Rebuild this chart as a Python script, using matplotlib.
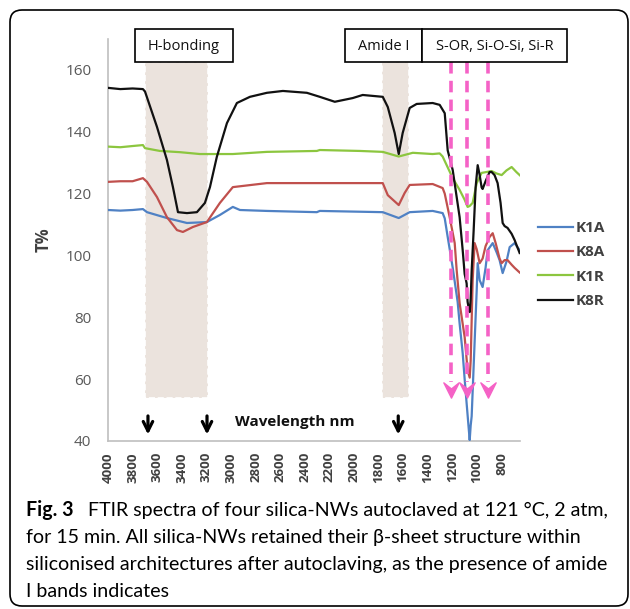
import matplotlib
matplotlib.use("Agg")
import matplotlib.pyplot as plt
from matplotlib.patches import Rectangle, FancyBboxPatch
from matplotlib.path import Path

plt.rcParams['font.family'] = ['Open Sans', 'DejaVu Sans']

# FTIR readings (wavenumber, T%)
k1a_wn = [4000, 3900, 3800, 3716, 3683, 3521, 3358, 3196, 3090, 2985, 2927, 2708, 2302,
          2278, 1766, 1636, 1547, 1360, 1279, 1262, 1238, 1197, 1157, 1141, 1116, 1100,
          1084, 1067, 1059, 1051, 1043, 1035, 1019, 1002, 994, 978, 954, 930, 913, 872,
          840, 816, 791, 760, 734, 694, 653]
k1a_t = [114.7, 114.5, 114.7, 115.0, 114.0, 112.1, 110.5, 110.8, 113.1, 115.7, 114.7, 114.4, 114.0,
         114.4, 114.0, 112.1, 114.0, 114.4, 113.7, 112.0, 106.0, 96.0, 85.0, 78.0, 68.4, 60.0,
         52.2, 44.0, 40.3, 45.0, 48.0, 56.0, 72.0, 88.8, 97.5, 92.0, 89.8, 96.0, 101.7, 104.0,
         101.0, 98.5, 94.3, 98.0, 102.7, 104.0, 101.7]

k8a_wn = [4000, 3900, 3800, 3716, 3683, 3602, 3521, 3439, 3391, 3310, 3196, 3090, 2985,
          2708, 2302, 1953, 1766, 1725, 1636, 1588, 1547, 1360, 1279, 1262, 1222, 1181,
          1165, 1141, 1100, 1076, 1059, 1051, 1035, 1019, 1002, 978, 954, 930, 897, 872,
          848, 816, 799, 775, 751, 718, 694, 653]
k8a_t = [123.8, 124.0, 124.0, 125.0, 123.8, 118.9, 112.4, 108.2, 107.6, 109.2, 110.8, 117.0, 122.1,
         123.4, 123.4, 123.4, 123.4, 119.5, 116.3, 120.2, 122.8, 123.1, 121.8, 120.0, 112.4, 104.0,
         95.3, 84.6, 73.6, 62.9, 60.5, 66.0, 92.0, 104.0, 102.0, 97.5, 99.0, 103.0, 106.0, 107.2,
         104.0, 99.0, 97.5, 98.5, 98.5, 97.0, 96.0, 94.5]

k1r_wn = [4000, 3900, 3797, 3716, 3699, 3578, 3415, 3253, 2985, 2708, 2302, 2278, 1953,
          1766, 1636, 1522, 1360, 1303, 1279, 1238, 1197, 1141, 1100, 1076, 1059, 1035,
          1002, 962, 920, 881, 840, 799, 760, 718, 680, 637]
k1r_t = [135.2, 135.0, 135.4, 135.7, 134.7, 133.8, 133.4, 132.8, 132.8, 133.5, 133.8, 134.1, 133.8,
         133.5, 132.0, 133.2, 132.8, 133.0, 132.0, 128.5, 125.0, 121.2, 118.0, 115.7, 116.0, 117.0,
         123.4, 126.7, 127.0, 127.3, 126.5, 126.0, 127.5, 128.6, 127.0, 125.4]

k8r_wn = [4000, 3900, 3800, 3716, 3699, 3602, 3521, 3472, 3431, 3358, 3277, 3212, 3171,
          3115, 3033, 2952, 2846, 2708, 2578, 2383, 2278, 2156, 2010, 1929, 1766, 1725,
          1669, 1636, 1604, 1547, 1490, 1360, 1303, 1262, 1246, 1238, 1197, 1141, 1116,
          1100, 1084, 1076, 1063, 1059, 1051, 1043, 1027, 1011, 994, 978, 962, 954, 930,
          897, 881, 857, 832, 808, 791, 775, 751, 718, 694, 653]
k8r_t = [154.2, 153.8, 154.0, 153.8, 153.0, 141.6, 130.9, 122.1, 114.0, 113.7, 114.0, 117.0, 122.1,
         131.9, 142.8, 149.3, 151.3, 152.6, 153.2, 152.6, 151.3, 149.7, 150.9, 151.9, 151.3, 148.0,
         139.6, 132.8, 139.6, 147.7, 149.0, 149.3, 148.7, 146.0, 138.0, 134.0, 127.6, 112.4, 101.7,
         94.0, 91.0, 85.0, 82.0, 81.7, 86.0, 95.0, 108.0, 122.0, 129.2, 126.0, 122.0, 121.5, 124.0,
         127.0, 127.0, 126.0, 123.4, 117.0, 110.5, 109.5, 108.9, 107.0, 105.0, 100.8]

series_names = ['K1A', 'K8A', 'K1R', 'K8R']
series_colors = ['#4f81c4', '#c0504d', '#8cc63f', '#111111']

xticks = list(range(4000, 799, -200))
yticks = [40, 60, 80, 100, 120, 140, 160]

# bands (wavenumber ranges) and marker positions
band_ranges = [(3700, 3190), (1770, 1550)]
pink_arrows = [1210, 1080, 910]
black_arrows = [3675, 3195, 1640]

W, H = 630, 609
fig = plt.figure(figsize=(W / 100, H / 100), dpi=100)
ax = fig.add_axes([108 / W, (H - 441) / H, 412 / W, 402 / H])

for hi, lo in band_ranges:
    ax.add_patch(Rectangle((lo, 54), hi - lo, 108.5, facecolor='#ebe3dd',
                           edgecolor='white', linestyle='--', lw=1.2, zorder=1))

for wn, t, name, c in zip([k1a_wn, k8a_wn, k1r_wn, k8r_wn],
                          [k1a_t, k8a_t, k1r_t, k8r_t], series_names, series_colors):
    ax.plot(wn, t, color=c, lw=1.6, label=name, zorder=3)

# notched arrow head
head = Path([(-1, 1), (0, -1), (1, 1), (0, 0.2), (-1, 1)],
            [Path.MOVETO, Path.LINETO, Path.LINETO, Path.LINETO, Path.CLOSEPOLY])
pink = '#f562c6'
for x in pink_arrows:
    ax.plot([x, x], [162.5, 59], color=pink, lw=2.6,
            linestyle=(0, (3.2, 2)), zorder=4, solid_capstyle='butt')
    ax.plot([x], [56.6], marker=head, markersize=11, color=pink, zorder=4)

for x in black_arrows:
    ax.annotate('', xy=(x, 41.2), xytext=(x, 49),
                arrowprops=dict(arrowstyle='->', color='black', lw=2.3,
                                mutation_scale=17))

ax.set_xlim(4000, 650)
ax.set_ylim(40, 170)
ax.set_xticks(xticks)
ax.set_yticks(yticks)
ax.set_xticklabels([str(v) for v in xticks], rotation=90, fontsize=9.5,
                   fontweight='bold', color='#404040')
ax.set_yticklabels([str(v) for v in yticks], fontsize=11, color='#595959')
ax.tick_params(length=0)
ax.tick_params(axis='x', pad=8)
ax.tick_params(axis='y', pad=12)
for s in ['top', 'right']:
    ax.spines[s].set_visible(False)
for s in ['left', 'bottom']:
    ax.spines[s].set_color('#bfbfbf')
    ax.spines[s].set_linewidth(1.2)
ax.patch.set_alpha(0)

leg = fig.legend(loc='upper left', bbox_to_anchor=(538 / W, 1 - 221 / H), frameon=False,
                 borderpad=0, borderaxespad=0, handlelength=2.3, handletextpad=0.15,
                 labelspacing=0.68, prop={'size': 11, 'weight': 'bold'})
for txt in leg.get_texts():
    txt.set_color('#404040')

# overlay in pixel coordinates for frame, boxes, captions
ov = fig.add_axes([0, 0, 1, 1], zorder=10)
ov.set_xlim(0, W)
ov.set_ylim(H, 0)
ov.axis('off')
ov.patch.set_alpha(0)

ov.add_patch(FancyBboxPatch((10, 10), 618, 596, boxstyle='round,pad=0,rounding_size=12',
                            facecolor='none', edgecolor='black', lw=1.2))

boxes = [((135, 29), 98, 'H-bonding'), ((345, 29), 77, 'Amide I'),
         ((422, 29), 145, 'S-OR, Si-O-Si, Si-R')]
for (bx, by), bw, label in boxes:
    ov.add_patch(Rectangle((bx, by), bw, 33, facecolor='white', edgecolor='black', lw=1.2))
    ov.text(bx + bw / 2, by + 17, label, ha='center', va='center', fontsize=10.5, color='#111111')

ov.text(235, 422, 'Wavelength nm', ha='left', va='center', fontsize=11,
        fontweight='bold', color='#111111')
ov.text(43.5, 240, 'T%', ha='center', va='center', rotation=90, fontsize=12,
        fontweight='bold', color='#404040')

cap_font = ['Lato', 'DejaVu Sans']
cap_size = 14.1
ov.text(26, 516, 'Fig. 3', fontsize=cap_size, fontweight='bold', family=cap_font, va='baseline')
ov.text(88, 516, 'FTIR spectra of four silica-NWs autoclaved at 121 °C, 2 atm,',
        fontsize=cap_size, family=cap_font, va='baseline')
ov.text(26, 543, 'for 15 min. All silica-NWs retained their β-sheet structure within',
        fontsize=cap_size, family=cap_font, va='baseline')
ov.text(26, 570, 'siliconised architectures after autoclaving, as the presence of amide',
        fontsize=cap_size, family=cap_font, va='baseline')
ov.text(26, 597, 'I bands indicates', fontsize=cap_size, family=cap_font, va='baseline')

fig.savefig('out.png', dpi=100)
